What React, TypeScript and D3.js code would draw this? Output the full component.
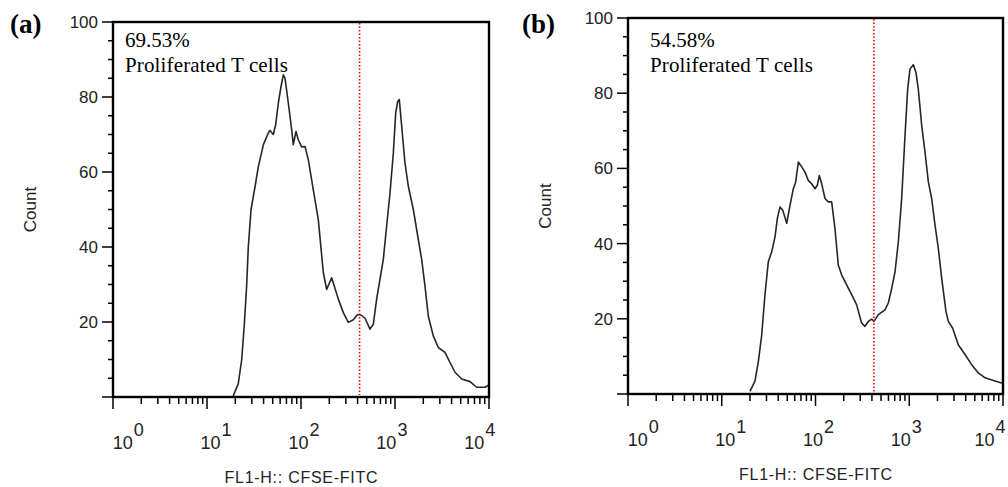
import React from "react";
import * as d3 from "d3";

// ---------- data ----------
const aFluor = [19, 21.5, 23.4, 24.9, 26.4, 27.5, 29.4, 32.4, 35.2, 39.8, 44.9, 46.8, 50.7, 53.8, 57.4, 61.3, 64.9, 67.6, 73.3, 79.6, 82.8, 88.5, 93.6, 101.6, 110.3, 119.6, 135, 152.8, 172.7, 187.5, 212, 249.5, 282, 318.5, 360, 400, 440, 480, 542, 588, 638, 692, 751, 815, 885, 960, 1017, 1068, 1111, 1178, 1277, 1386, 1566, 1770, 1922, 2084, 2260, 2554, 2888, 3404, 3846, 4348, 5125, 6281, 7396, 9066, 10000];
const aCount = [0.3, 3.5, 10, 19, 29.6, 40, 50, 56, 61.5, 67.3, 70.4, 71.1, 70, 72.6, 78.4, 82.8, 85.9, 85, 78.4, 71.3, 67.3, 70.8, 68.6, 66.7, 66.8, 63.3, 55.3, 47.3, 33.2, 28.7, 31.8, 26.1, 22.5, 19.9, 20.6, 22, 21.8, 21, 18.1, 19.4, 26.1, 31.4, 36.7, 45.6, 54.4, 65.1, 75.7, 78.8, 79.3, 72.2, 62.4, 56.2, 50, 42, 36.7, 29.6, 21.6, 16.3, 13.2, 11.9, 9.2, 6.6, 4.8, 4.1, 2.6, 2.6, 3.2];

const bFluor = [20, 22.6, 24.6, 26.7, 28.9, 31.4, 34.1, 37, 39.2, 41.8, 44.7, 49.3, 53.5, 58, 61.5, 65.6, 71.3, 77.3, 83.8, 91, 98.8, 104.5, 109.8, 116.5, 126.3, 137, 148.7, 161.3, 175, 190, 215, 243, 275, 310, 337, 366, 397, 421, 468, 551, 598, 650, 705, 765, 830, 901, 962, 1018, 1104, 1180, 1249, 1358, 1473, 1599, 1734, 1883, 2043, 2217, 2466, 2611, 2906, 3334, 3934, 4634, 5457, 6430, 7890, 9680, 10000];
const bCount = [0.7, 3.4, 8.7, 15.8, 26.4, 35.2, 37.8, 41.8, 46.7, 49.7, 48.9, 45.4, 50.2, 54.6, 56.4, 61.7, 60.4, 59, 56.8, 55.9, 54.6, 55.5, 58.1, 55.9, 52, 51.1, 51.1, 44, 34.3, 31.7, 29, 26.4, 23.7, 18.9, 18, 19.3, 19.9, 19.3, 21.1, 22.4, 24.2, 28.1, 32.5, 40.5, 52, 68.7, 81.1, 86.4, 87.6, 85.5, 81.1, 71.4, 64.3, 56.4, 52, 44.9, 38.7, 30.8, 21.9, 19.3, 17.5, 13.1, 10.5, 7.8, 5.6, 4.3, 3.6, 2.9, 2.8];

const panelLabels = ["(a)", "(b)"];
const percentLabels = ["69.53%", "54.58%"];
const annotation = "Proliferated T cells";
const gateValue = 420;
const xDecades = [0, 1, 2, 3, 4];
const yMajorTicks = [0, 20, 40, 60, 80, 100];
const yTickLabels = [20, 40, 60, 80, 100];
const xTitle = "FL1-H:: CFSE-FITC";
const yTitle = "Count";

// ---------- layout ----------
const W = 1008;
const H = 487;
const panels = [
  { left: 113, right: 489, top: 22, bottom: 397, labelX: 10, textDx: 12, fluor: aFluor, count: aCount },
  { left: 628, right: 1003, top: 18, bottom: 394, labelX: 522, textDx: 22, fluor: bFluor, count: bCount },
];

const sans = "'Liberation Sans', Arial, sans-serif";
const serif = "'Liberation Serif', 'Times New Roman', serif";

function Panel({ p, i }: { p: any; i: number }) {
  const x = d3.scaleLog().domain([1, 1e4]).range([p.left, p.right]);
  const y = d3.scaleLinear().domain([0, 100]).range([p.bottom, p.top]);
  const pts: [number, number][] = p.fluor.map((f: number, k: number) => [f, p.count[k]]);
  const line = d3
    .line<[number, number]>()
    .x((d) => x(d[0]))
    .y((d) => y(d[1]));

  const minorX: number[] = [];
  for (let e = 0; e < 4; e++) for (let m = 2; m <= 9; m++) minorX.push(m * Math.pow(10, e));
  const minorY = d3.range(5, 100, 5).filter((v) => v % 20 !== 0);
  const mid = (p.left + p.right) / 2;

  return (
    <g>
      {/* panel label */}
      <text x={p.labelX} y={33} fontFamily={serif} fontWeight="bold" fontSize={27}>
        {panelLabels[i]}
      </text>
      {/* curve */}
      <path d={line(pts) || ""} fill="none" stroke="#262626" strokeWidth={1.6} strokeLinejoin="round" />
      {/* gate */}
      <line
        x1={x(gateValue)}
        x2={x(gateValue)}
        y1={p.top + 1}
        y2={p.bottom - 2}
        stroke="#ff0000"
        strokeWidth={1.6}
        strokeDasharray="1.5,2"
      />
      {/* frame */}
      <rect x={p.left} y={p.top} width={p.right - p.left} height={p.bottom - p.top} fill="none" stroke="#000" strokeWidth={2.4} />
      {/* y ticks */}
      {yMajorTicks.map((v) => (
        <line key={"ym" + v} x1={p.left - 11} x2={p.left} y1={y(v)} y2={y(v)} stroke="#000" strokeWidth={1.5} />
      ))}
      {minorY.map((v) => (
        <line key={"yn" + v} x1={p.left - 5} x2={p.left} y1={y(v)} y2={y(v)} stroke="#000" strokeWidth={1.5} />
      ))}
      {yTickLabels.map((v) => (
        <text key={"yl" + v} x={p.left - 15} y={y(v) + 6} textAnchor="end" fontFamily={sans} fontSize={17} fill="#222">
          {v}
        </text>
      ))}
      {/* x ticks */}
      {xDecades.map((e) => (
        <line key={"xm" + e} x1={x(Math.pow(10, e))} x2={x(Math.pow(10, e))} y1={p.bottom} y2={p.bottom + 12} stroke="#000" strokeWidth={1.5} />
      ))}
      {minorX.map((v) => (
        <line key={"xn" + v} x1={x(v)} x2={x(v)} y1={p.bottom} y2={p.bottom + 7} stroke="#000" strokeWidth={1.5} />
      ))}
      {xDecades.map((e) => {
        const cx = Math.min(mid + (x(Math.pow(10, e)) - mid) * 0.935 + 3, W - 18);
        return (
          <text key={"xl" + e} x={cx} y={p.bottom + 52} textAnchor="middle" fontFamily={sans} fontSize={18} fill="#222">
            10
            <tspan dx={1} dy={-13}>{e}</tspan>
          </text>
        );
      })}
      {/* axis titles */}
      <text x={mid} y={p.bottom + 86} textAnchor="middle" fontFamily={sans} fontSize={16} fill="#222" textLength={153} lengthAdjust="spacing">
        {xTitle}
      </text>
      <text
        transform={`translate(${p.left - 77},${(p.top + p.bottom) / 2}) rotate(-90)`}
        textAnchor="middle"
        fontFamily={sans}
        fontSize={17}
        fill="#222"
      >
        {yTitle}
      </text>
      {/* annotations */}
      <text x={p.left + p.textDx} y={47} fontFamily={serif} fontSize={21}>
        {percentLabels[i]}
      </text>
      <text x={p.left + p.textDx} y={72} fontFamily={serif} fontSize={21} textLength={163} lengthAdjust="spacing">
        {annotation}
      </text>
    </g>
  );
}

export default function App() {
  return (
    <svg
      width={W}
      height={H}
      viewBox={`0 0 ${W} ${H}`}
      style={{ position: "absolute", left: 0, top: 0, background: "#fff" }}
    >
      <rect width={W} height={H} fill="#fff" />
      {panels.map((p, i) => (
        <Panel key={i} p={p} i={i} />
      ))}
    </svg>
  );
}
